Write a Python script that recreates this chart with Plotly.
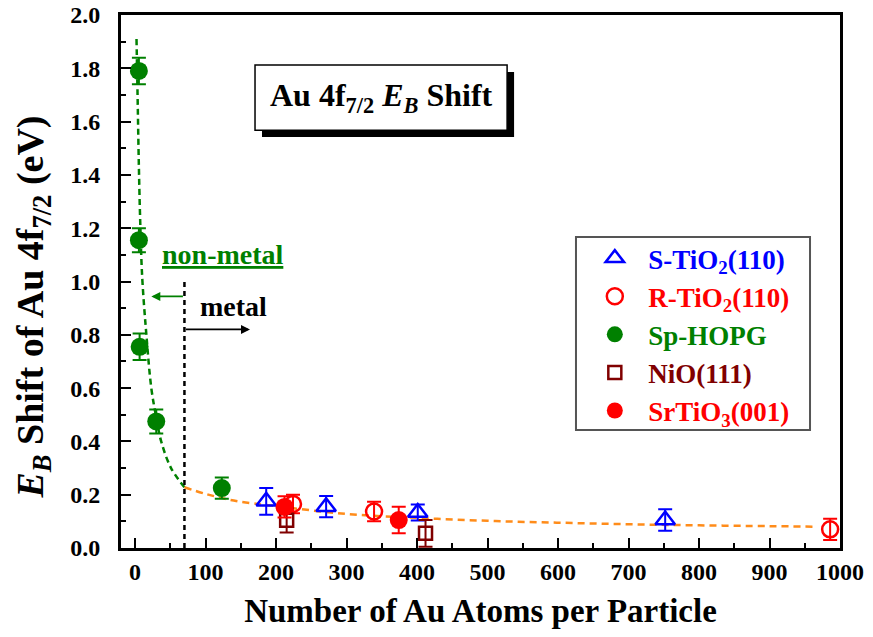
import plotly.graph_objects as go

# ---------------- data ----------------
s_tio2_x = [186, 271, 401, 752]
s_tio2_y = [0.175, 0.155, 0.133, 0.105]
s_tio2_e = [0.05, 0.04, 0.03, 0.04]

r_tio2_x = [224, 339, 986]
r_tio2_y = [0.165, 0.137, 0.07]
r_tio2_e = [0.035, 0.037, 0.04]

hopg_x = [5.4, 5.4, 6.4, 30, 123]
hopg_y = [1.79, 1.155, 0.755, 0.475, 0.225]
hopg_e = [0.05, 0.045, 0.05, 0.045, 0.04]

nio_x = [215, 412]
nio_y = [0.104, 0.055]
nio_e = [0.046, 0.05]

srtio3_x = [212, 374]
srtio3_y = [0.154, 0.105]
srtio3_e = [0.04, 0.05]

# fitted guide curves
nonmetal_fit_x = [2.0, 3.5, 5, 7, 10, 16, 23, 30, 37, 51, 70]
nonmetal_fit_y = [1.91, 1.70, 1.48, 1.25, 1.02, 0.80, 0.60, 0.49, 0.40, 0.30, 0.228]
metal_fit_x = [70, 100, 140, 200, 300, 400, 500, 600, 700, 800, 900, 965]
metal_fit_y = [0.228, 0.203, 0.178, 0.157, 0.128, 0.113, 0.102, 0.095, 0.089, 0.085, 0.082, 0.080]

boundary_x = 70
x_ticks = [0, 100, 200, 300, 400, 500, 600, 700, 800, 900, 1000]
y_ticks = [0.0, 0.2, 0.4, 0.6, 0.8, 1.0, 1.2, 1.4, 1.6, 1.8, 2.0]

FONT = "Liberation Serif"
GREEN = "#008000"
BLUE = "#0000ff"
RED = "#ff0000"
DARKRED = "#800000"
ORANGE = "#ff8c1a"
PAD = "\u00a0\u00a0"

fig = go.Figure()

fig.add_trace(go.Scatter(x=nonmetal_fit_x, y=nonmetal_fit_y, mode="lines",
                         line=dict(color=GREEN, width=2.5, dash="6px,4px", shape="spline"),
                         showlegend=False, hoverinfo="skip"))
fig.add_trace(go.Scatter(x=metal_fit_x, y=metal_fit_y, mode="lines",
                         line=dict(color=ORANGE, width=2.5, dash="7px,5px", shape="spline"),
                         showlegend=False, hoverinfo="skip"))


def err(vals, color):
    return dict(type="data", array=vals, visible=True, color=color, thickness=2, width=7)


def lname(text, color):
    return f"{PAD}<span style='color:{color}'><b>{text}</b></span>"


fig.add_trace(go.Scatter(x=s_tio2_x, y=s_tio2_y, mode="markers", legendgroup="a",
                         name=lname("S-TiO<sub>2</sub>(110)", BLUE),
                         marker=dict(symbol="triangle-up-open", size=17, color=BLUE, line=dict(width=2.5, color=BLUE)),
                         error_y=err(s_tio2_e, BLUE)))
fig.add_trace(go.Scatter(x=r_tio2_x, y=r_tio2_y, mode="markers", legendgroup="b",
                         name=lname("R-TiO<sub>2</sub>(110)", RED),
                         marker=dict(symbol="circle-open", size=16, color=RED, line=dict(width=2.5, color=RED)),
                         error_y=err(r_tio2_e, RED)))
fig.add_trace(go.Scatter(x=hopg_x, y=hopg_y, mode="markers", legendgroup="c",
                         name=lname("Sp-HOPG", GREEN),
                         marker=dict(symbol="circle", size=18, color=GREEN),
                         error_y=err(hopg_e, GREEN)))
fig.add_trace(go.Scatter(x=nio_x, y=nio_y, mode="markers", legendgroup="d",
                         name=lname("NiO(111)", DARKRED),
                         marker=dict(symbol="square-open", size=13, color=DARKRED, line=dict(width=2.5, color=DARKRED)),
                         error_y=err(nio_e, DARKRED)))
fig.add_trace(go.Scatter(x=srtio3_x, y=srtio3_y, mode="markers", legendgroup="e",
                         name=lname("SrTiO<sub>3</sub>(001)", RED),
                         marker=dict(symbol="circle", size=18, color=RED),
                         error_y=err(srtio3_e, RED)))

# metal / non-metal boundary
fig.add_shape(type="line", x0=boundary_x, x1=boundary_x, y0=0, y1=1.0,
              line=dict(color="black", width=2.5, dash="5px,4px"))

fig.add_annotation(x=23, y=0.944, ax=boundary_x, ay=0.944, xref="x", yref="y", axref="x", ayref="y",
                   text="", showarrow=True, arrowhead=2, arrowsize=1, arrowwidth=1.8, arrowcolor=GREEN)
fig.add_annotation(x=163, y=0.82, ax=boundary_x, ay=0.82, xref="x", yref="y", axref="x", ayref="y",
                   text="", showarrow=True, arrowhead=2, arrowsize=1, arrowwidth=1.8, arrowcolor="black")
fig.add_annotation(x=125, y=1.10, text="<b><u>non-metal</u></b>", showarrow=False,
                   font=dict(family=FONT, size=28, color=GREEN))
fig.add_annotation(x=139, y=0.906, text="<b>metal</b>", showarrow=False,
                   font=dict(family=FONT, size=28, color="black"))

# title box with shadow
bx0, bx1, by0, by1 = 0.1864, 0.537, 0.784, 0.906
sx, sy = 0.0097, 0.013
fig.add_shape(type="rect", xref="paper", yref="paper", x0=bx0 + sx, x1=bx1 + sx, y0=by0 - sy, y1=by1 - sy,
              fillcolor="black", line=dict(width=0))
fig.add_shape(type="rect", xref="paper", yref="paper", x0=bx0, x1=bx1, y0=by0, y1=by1,
              fillcolor="white", line=dict(color="black", width=1.5))
fig.add_annotation(xref="paper", yref="paper", x=(bx0 + bx1) / 2, y=(by0 + by1) / 2,
                   xanchor="center", yanchor="middle",
                   text="<b>Au 4f<sub>7/2</sub> <i>E<sub>B</sub></i> Shift</b>", showarrow=False,
                   font=dict(family=FONT, size=32, color="black"))

# y-axis title (placed as rotated annotation)
fig.add_annotation(xref="paper", yref="paper", x=0, y=0.451, xshift=-88,
                   xanchor="center", yanchor="middle", textangle=-90, showarrow=False,
                   text="<b><i>E<sub>B</sub></i> Shift of Au 4f<sub>7/2</sub> (eV)</b>",
                   font=dict(family=FONT, size=38, color="black"))

# legend frame
fig.add_shape(type="rect", xref="paper", yref="paper", x0=0.6328, x1=0.9583, y0=0.2214, y1=0.5835,
              line=dict(color="#555555", width=2), fillcolor="rgba(0,0,0,0)")

# the page body keeps an 8px margin, so the figure is sized to fit the 873x637 window
fig.update_layout(
    width=857, height=621,
    margin=dict(l=113, r=25, t=7, b=81, autoexpand=False),
    paper_bgcolor="white", plot_bgcolor="white",
    font=dict(family=FONT, size=24, color="black"),
    legend=dict(x=0.659, y=0.589, xanchor="left", yanchor="top",
                borderwidth=0, bgcolor="rgba(0,0,0,0)",
                font=dict(family=FONT, size=27), itemsizing="trace", tracegroupgap=0),
)

fig.update_xaxes(range=[-20, 1000], tickmode="array", tickvals=x_ticks, automargin=False,
                 ticktext=[f"<b>{v}</b>" for v in x_ticks], ticklabelstandoff=0,
                 ticklabeloverflow="allow",
                 ticks="inside", ticklen=10, tickwidth=2, tickcolor="black",
                 minor=dict(ticks="inside", ticklen=5, tickwidth=2, tickcolor="black", dtick=50),
                 showline=True, linewidth=3, linecolor="black", mirror=True, showgrid=False, zeroline=False,
                 title=dict(text="<b>Number of Au Atoms per Particle</b>", font=dict(size=33), standoff=16))
fig.update_yaxes(range=[0, 2.0], tickmode="array", tickvals=y_ticks, automargin=False,
                 ticktext=[f"<b>{v:.1f}</b>" for v in y_ticks], ticklabelstandoff=13,
                 ticklabeloverflow="allow",
                 ticks="inside", ticklen=10, tickwidth=2, tickcolor="black",
                 minor=dict(ticks="inside", ticklen=5, tickwidth=2, tickcolor="black", dtick=0.1),
                 showline=True, linewidth=3, linecolor="black", mirror=True, showgrid=False, zeroline=False)

fig.write_html("out.html")
